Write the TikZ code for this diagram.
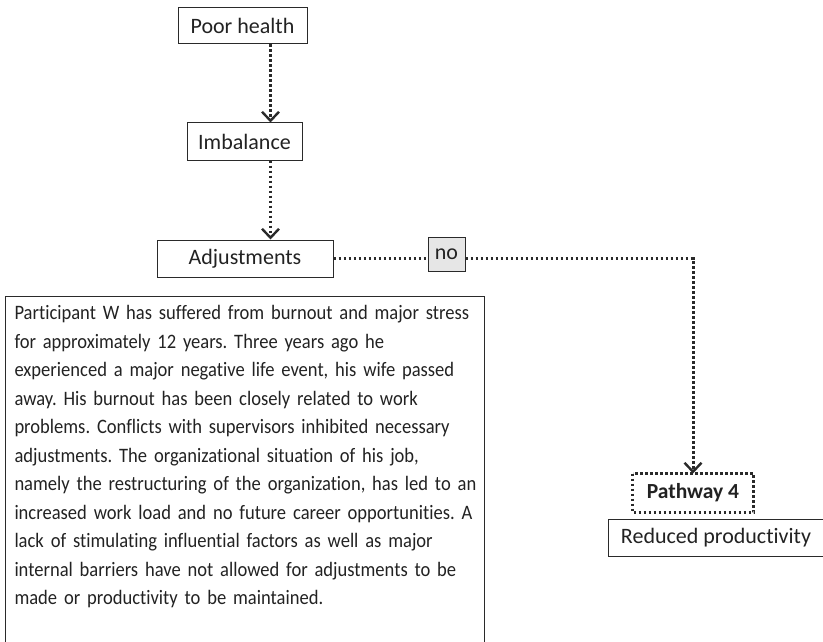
\documentclass[tikz,border=0pt]{standalone}
\usepackage{fontspec}
\setmainfont{Carlito}[Ligatures=NoCommon]
\newfontfamily\parafont{Carlito}[Ligatures=NoCommon,FakeStretch=0.905]
\usetikzlibrary{arrows.meta}
\definecolor{ln}{HTML}{2A2A2A}
\definecolor{tx}{HTML}{222222}
\definecolor{nofill}{HTML}{E6E6E6}
\begin{document}
\begin{tikzpicture}[x=1pt,y=-1pt,
  box/.style={draw=ln,line width=1pt,inner sep=0pt,text=tx,font=\fontsize{22}{26}\selectfont},
  dotline/.style={draw=ln,line width=3pt,dash pattern=on 2.7pt off 2.3pt},
  dotarrow/.style={dotline,-{Straight Barb[length=9pt,width=17pt,line width=2.4pt]}}]
\useasboundingbox (0,0) rectangle (823,642);
\node[box,minimum width=129pt,minimum height=36pt] (ph) at (242.5,26) {Poor health};
\node[box,minimum width=115pt,minimum height=37pt] (imb) at (244.5,141.5) {Imbalance};
\node[box,minimum width=176pt,minimum height=37pt] (adj) at (245,258.5) {Adjustments};
\node[box,fill=nofill,minimum width=37pt,minimum height=34pt,text height=10pt,text depth=0pt] (no) at (446.5,254.5) {no};
\node[box,draw=none,minimum width=120pt,minimum height=38pt,font=\fontsize{21.5}{24}\selectfont\bfseries] (pw) at (693,493) {Pathway 4};
\draw[dotline] (pw.north west) rectangle (pw.south east);
\node[box,minimum width=216pt,minimum height=37pt] (rp) at (716,537.5) {Reduced productivity};
\node[box,anchor=north west,align=left,text width=461pt,minimum height=350pt,
  inner xsep=9pt,inner ysep=8pt,
  font=\parafont\fontsize{20.5}{28.5}\selectfont] (txt) at (5,296) {\vbox to 332pt{\raggedright\frenchspacing\hfuzz=50pt
\mbox{Participant W has suffered from burnout and major stress}\\
\mbox{for approximately 12 years. Three years ago he}\\
\mbox{experienced a major negative life event, his wife passed}\\
\mbox{away. His burnout has been closely related to work}\\
\mbox{problems. Conflicts with supervisors inhibited necessary}\\
\mbox{adjustments. The organizational situation of his job,}\\
\mbox{namely the restructuring of the organization, has led to an}\\
\mbox{increased work load and no future career opportunities. A}\\
\mbox{lack of stimulating influential factors as well as major}\\
\mbox{internal barriers have not allowed for adjustments to be}\\
\mbox{made or productivity to be maintained.}\vss}};
\coordinate (ax) at (270.5,0);
\coordinate (corner) at (693,258.5);
\draw[dotarrow] (ph.south -| ax) -- (imb.north -| ax);
\draw[dotarrow] (imb.south -| ax) -- (adj.north -| ax);
\draw[dotline] (adj.east) -- (no.west |- adj.east);
\draw[dotarrow] (no.east |- corner) -- (corner) -- (pw.north);
\end{tikzpicture}
\end{document}
